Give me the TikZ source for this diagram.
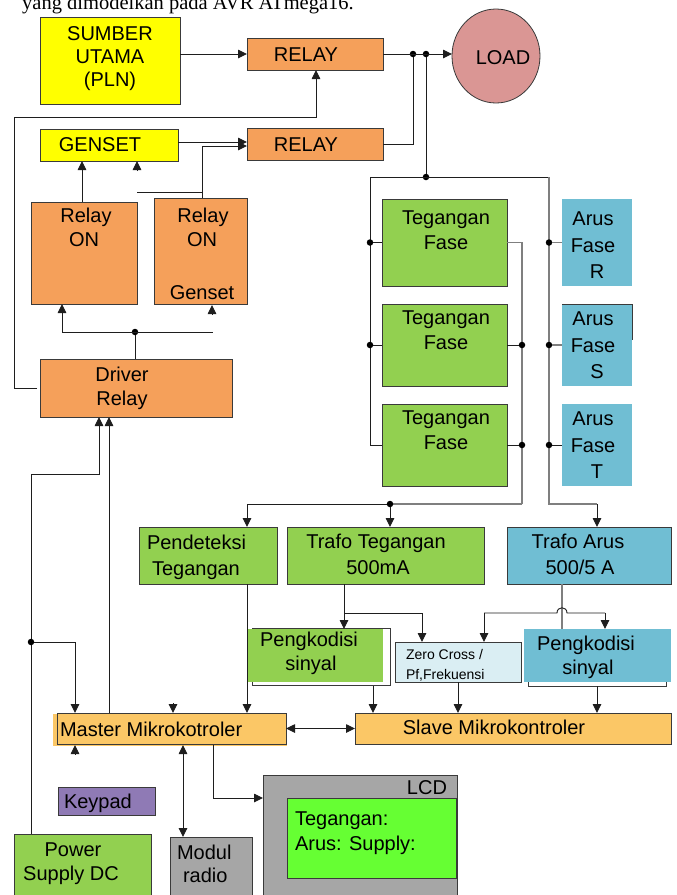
\documentclass[tikz,border=0pt]{standalone}
\usepackage{fontspec}
\setmainfont{Liberation Sans}
\newfontfamily\capfont{Liberation Serif}
\usetikzlibrary{arrows.meta,shapes.geometric}
\definecolor{yel}{HTML}{FFFF00}
\definecolor{org}{HTML}{F5A05A}
\definecolor{loadc}{HTML}{DA9694}
\definecolor{grn}{HTML}{92D050}
\definecolor{blu}{HTML}{70BED3}
\definecolor{zc}{HTML}{DAEEF3}
\definecolor{mc}{HTML}{FBC766}
\definecolor{kp}{HTML}{8F7AB5}
\definecolor{gry}{HTML}{A6A6A6}
\definecolor{lcdg}{HTML}{66FF33}
\definecolor{bord}{HTML}{3A3A3A}
\definecolor{wirec}{HTML}{1E1E1E}
\definecolor{wgray}{HTML}{7F7F7F}
\newcommand\fs{\fontsize{20}{24}\selectfont}
\newcommand\fss{\fontsize{14}{17}\selectfont}
\newcommand\mybox[6]{\node[#6,minimum width={(#4-#2)*1pt},minimum height={(#5-#3)*1pt}] (#1) at ({(#2+#4)/2},{(#3+#5)/2}) {};}
\begin{document}
\begin{tikzpicture}[x=1pt,y=-1pt,
 box/.style={draw=bord, line width=0.8pt, inner sep=0pt, outer sep=0pt, rectangle},
 nob/.style={draw=none, inner sep=0pt, outer sep=0pt, rectangle},
 lbl/.style={anchor=base, inner sep=0pt, outer sep=0pt, font=\fs},
 lbll/.style={lbl, anchor=base west},
 wire/.style={draw=wirec, line width=0.9pt},
 gwire/.style={draw=wgray, line width=1.1pt},
 arr/.style={wire, -{Triangle[length=9pt,width=8.5pt]}},
 darr/.style={wire, {Triangle[length=9pt,width=8.5pt]}-{Triangle[length=9pt,width=8.5pt]}},
 jdot/.style={circle, fill=black, draw=none, inner sep=0pt, minimum size=6.5pt},
]
\useasboundingbox (0,0) rectangle (677,895);
\fill[white] (0,0) rectangle (677,895);
\clip (0,0) rectangle (677,895);

% caption (cut off at top, as in the reference)
\node[anchor=base west, inner sep=0pt, font=\capfont\fontsize{20.5}{24}\selectfont] (cap) at (22,9) {yang dimodelkan pada AVR ATmega16.};

% ---------- boxes ----------
\mybox{sumber}{40}{17}{180}{104}{box,fill=yel}
\mybox{relay1}{247}{38}{383}{70}{box,fill=org}
\node[ellipse, draw=bord, line width=0.8pt, fill=loadc, minimum width=88pt, minimum height=94pt, inner sep=0pt, outer sep=0pt] (load) at (496,56) {};
\mybox{genset}{40}{129}{178}{161}{box,fill=yel}
\mybox{relay2}{247}{128}{383}{160}{box,fill=org}
\mybox{ron1}{31}{202}{137}{304}{box,fill=org}
\mybox{ron2}{154}{198}{247}{304}{box,fill=org}
\mybox{driver}{40}{359}{232}{417}{box,fill=org}
\mybox{teg1}{382}{199}{507}{286}{box,fill=grn}
\mybox{teg2}{382}{304}{507}{386}{box,fill=grn}
\mybox{teg3}{382}{404}{507}{486}{box,fill=grn}
\mybox{arR}{562}{199}{632}{286}{nob,fill=blu}
\mybox{arS}{562}{304}{632}{386}{nob,fill=blu}
\mybox{arT}{562}{404}{632}{486}{nob,fill=blu}
\draw[bord, line width=0.8pt] (arS.south west |- arS.north) -- (arS.north east) -- (632,340);
\mybox{pend}{139}{527}{277}{584}{box,fill=grn}
\mybox{trafoT}{287}{527}{484}{584}{box,fill=grn}
\mybox{trafoA}{507}{527}{671}{584}{box,fill=blu}
\mybox{pkgframe}{252}{628}{390}{685}{box}
\mybox{pkg}{247}{629}{383}{682}{nob,fill=grn}
\mybox{zero}{395}{642}{521}{682}{box,fill=zc}
\mybox{pkb}{524}{629}{671}{682}{nob,fill=blu}
\draw[bord, line width=0.8pt] (528,682) -- (528,686) -- (666,686) -- (666,682);
\fill[mc] (53,714) rectangle (287,746);
\mybox{master}{57}{713}{286}{744}{box}
\mybox{slave}{355}{713}{671}{744}{box,fill=mc}
\mybox{keypad}{58}{787}{155}{815}{box,fill=kp}
\mybox{power}{14}{834}{151}{900}{box,fill=grn}
\mybox{modul}{170}{837}{252}{900}{box,fill=gry}
\mybox{lcd}{263}{775}{457}{900}{box,fill=gry}
\mybox{lcdscr}{287}{798}{456}{878}{box,fill=lcdg}

% ---------- texts ----------
\node[lbl] (ts1) at (110,40) {SUMBER};
\node[lbl] (ts2) at (110,63) {UTAMA};
\node[lbl] (ts3) at (110,86) {(PLN)};
\node[lbl] (tr1) at (306,61) {RELAY};
\node[lbl] (tld) at (503,64) {LOAD};
\node[lbl] (tg) at (100,151) {GENSET};
\node[lbl] (tr2) at (306,151) {RELAY};
\node[lbl] (to1) at (86,222) {Relay};
\node[lbl] (to2) at (84,246) {ON};
\node[lbl] (to3) at (203,222) {Relay};
\node[lbl] (to4) at (202,246) {ON};
\node[lbl] (to5) at (202,299) {Genset};
\node[lbl] (td1) at (122,381) {Driver};
\node[lbl] (td2) at (122,405) {Relay};
\node[lbl] (tt1) at (446,224) {Tegangan};
\node[lbl] (tt2) at (446,249) {Fase};
\node[lbl] (tt3) at (446,324) {Tegangan};
\node[lbl] (tt4) at (446,349) {Fase};
\node[lbl] (tt5) at (446,424) {Tegangan};
\node[lbl] (tt6) at (446,449) {Fase};
\node[lbl] (ta1) at (593,225) {Arus};
\node[lbl] (ta2) at (593,252) {Fase};
\node[lbl] (ta3) at (597,278) {R};
\node[lbl] (ta4) at (593,325) {Arus};
\node[lbl] (ta5) at (593,352) {Fase};
\node[lbl] (ta6) at (597,378) {S};
\node[lbl] (ta7) at (593,425) {Arus};
\node[lbl] (ta8) at (593,452) {Fase};
\node[lbl] (ta9) at (597,478) {T};
\node[lbll] (tp1) at (147,549) {Pendeteksi};
\node[lbll] (tp2) at (152,575) {Tegangan};
\node[lbl] (tf1) at (376,548) {Trafo Tegangan};
\node[lbl] (tf2) at (378,574) {500mA};
\node[lbl] (tf3) at (578,548) {Trafo Arus};
\node[lbl] (tf4) at (580,574) {500/5 A};
\node[lbl] (tk1) at (309,646) {Pengkodisi};
\node[lbl] (tk2) at (311,670) {sinyal};
\node[lbll, font=\fss] (tz1) at (406,659) {Zero Cross /};
\node[lbll, font=\fss] (tz2) at (406,679) {Pf,Frekuensi};
\node[lbl] (tk3) at (586,650) {Pengkodisi};
\node[lbl] (tk4) at (588,674) {sinyal};
\node[lbll] (tm) at (60,736) {Master Mikrokotroler};
\node[lbl] (tsl) at (494,734) {Slave Mikrokontroler};
\node[lbll] (tkp) at (64,808) {Keypad};
\node[lbl] (tpw1) at (73,856) {Power};
\node[lbl] (tpw2) at (71,880) {Supply DC};
\node[lbll] (tmo1) at (177,859) {Modul};
\node[lbll] (tmo2) at (183,882) {radio};
\node[lbl, anchor=base east] (tlcd) at (447,794) {LCD};
\node[lbll] (tl1) at (295,825) {Tegangan:};
\node[lbll] (tl2) at (295,850) {Arus: Supply:};

% ---------- connectors: top ----------
\draw[arr] (sumber.east |- relay1.west) -- (relay1.west);
\node[jdot] (j1) at (413,54) {};
\node[jdot] (j2) at (426,54) {};
\draw[arr] (relay1.east) -- (relay1.east -| load.west);
\draw[wire] (relay2.east) -| (j1);
\node[jdot] (j3) at (426,177) {};
\draw[wire] (j2) -- (j3);
\coordinate (bl) at (370,177);
\coordinate (br) at (549,177);
\draw[wire] (bl) -- (br);
\draw[wire] (bl) -- (bl |- teg3.west) -- (teg3.west);
\node[jdot] (jl1) at (370,242.5) {};
\node[jdot] (jl2) at (370,345) {};
\draw[wire] (jl1) -- (teg1.west);
\draw[wire] (jl2) -- (teg2.west);
% current bus
\coordinate (br2) at (549,504);
\coordinate (br3) at (597,504);
\draw[gwire] (br) -- (br2) -- (br3);
\draw[arr] (br3) -- (br3 |- trafoA.north);
\node[jdot] (jr1) at (549,242.5) {};
\node[jdot] (jr2) at (549,345) {};
\node[jdot] (jr3) at (549,445) {};
\draw[gwire] (jr1) -- (arR.west);
\draw[gwire] (jr2) -- (arS.west);
\draw[wire] (jr3) -- (arT.west);
% voltage outputs
\coordinate (vo1) at (522,242.5);
\coordinate (vb) at (522,504);
\draw[gwire] (teg1.east) -- (vo1) -- (vb);
\node[jdot] (jv2) at (522,345) {};
\node[jdot] (jv3) at (522,445) {};
\draw[wire] (teg2.east) -- (jv2);
\draw[wire] (teg3.east) -- (jv3);
\coordinate (pa) at (247,504);
\draw[gwire] (vb) -- (390,504);
\draw[wire] (390,504) -- (pa);
\node[jdot] (jt) at (390,504) {};
\draw[arr] (pa) -- (pa |- pend.north);
\draw[arr] (jt) -- (jt |- trafoT.north);

% trafo tegangan split
\coordinate (tt) at (344,613);
\coordinate (tz) at (422,613);
\draw[wire] (trafoT.south -| tt) -- (tt) -- (tz);
\draw[arr] (tt) -- (tt |- pkg.north);
\draw[arr] (tz) -- (tz |- zero.north);
% trafo arus split
\coordinate (ta) at (562,613);
\coordinate (tza) at (484,613);
\coordinate (tpa) at (605,613);
\draw[gwire] (trafoA.south -| ta) -- (ta |- pkb.north);
\draw[wire] (tza) -- (557,613) .. controls (557,606) and (567,606) .. (567,613) -- (tpa);
\draw[arr] (tza) -- (tza |- zero.north);
\draw[arr] (tpa) -- (tpa |- pkb.north);
% to slave
\draw[arr] (373,686) -- (373 ,713);
\draw[arr] (zero.south) -- (zero.south |- slave.north);
\draw[arr] (597,686) -- (597,713);
\draw[darr] (master.east) -- (slave.west);

% ---------- left side ----------
\draw[arr] (pend.south -| pa) -- (pa |- master.north);
\draw[arr] (173,703) -- (173,713);
\draw[arr] (109,713) -- (109,417);
\coordinate (pw) at (31,834);
\draw[arr] (pw) -- (31,474) -- (99,474) -- (99,417);
\node[jdot] (jp) at (31,642) {};
\draw[arr] (jp) -- (75,642) -- (75,713);
% master bottom
\draw[arr] (75,754) -- (75,745);
\draw[darr] (183,745) -- (183,837);
\draw[arr] (213,745) -- (213,798) -- (lcd.west |- 213,798);

% driver relay
\node[jdot] (jd) at (135,332) {};
\draw[wire] (135,359) -- (jd);
\draw[wire] (62,332) -- (213,332);
\draw[arr] (62,332) -- (62,304);
\draw[arr] (212,314) -- (212,305);
\draw[arr] (37,388) -- (14,388) -- (14,117) -- (316,117) -- (316,70);

% genset area
\draw[arr] (82,202) -- (82,161);
\draw[arr] (137,171) -- (137,161);
\draw[wire] (137,192) -- (202,192);
\draw[arr] (202,198) -- (202,146) -- (247,146);
\draw[arr] (178,142) -- (247,142);
\end{tikzpicture}
\end{document}
